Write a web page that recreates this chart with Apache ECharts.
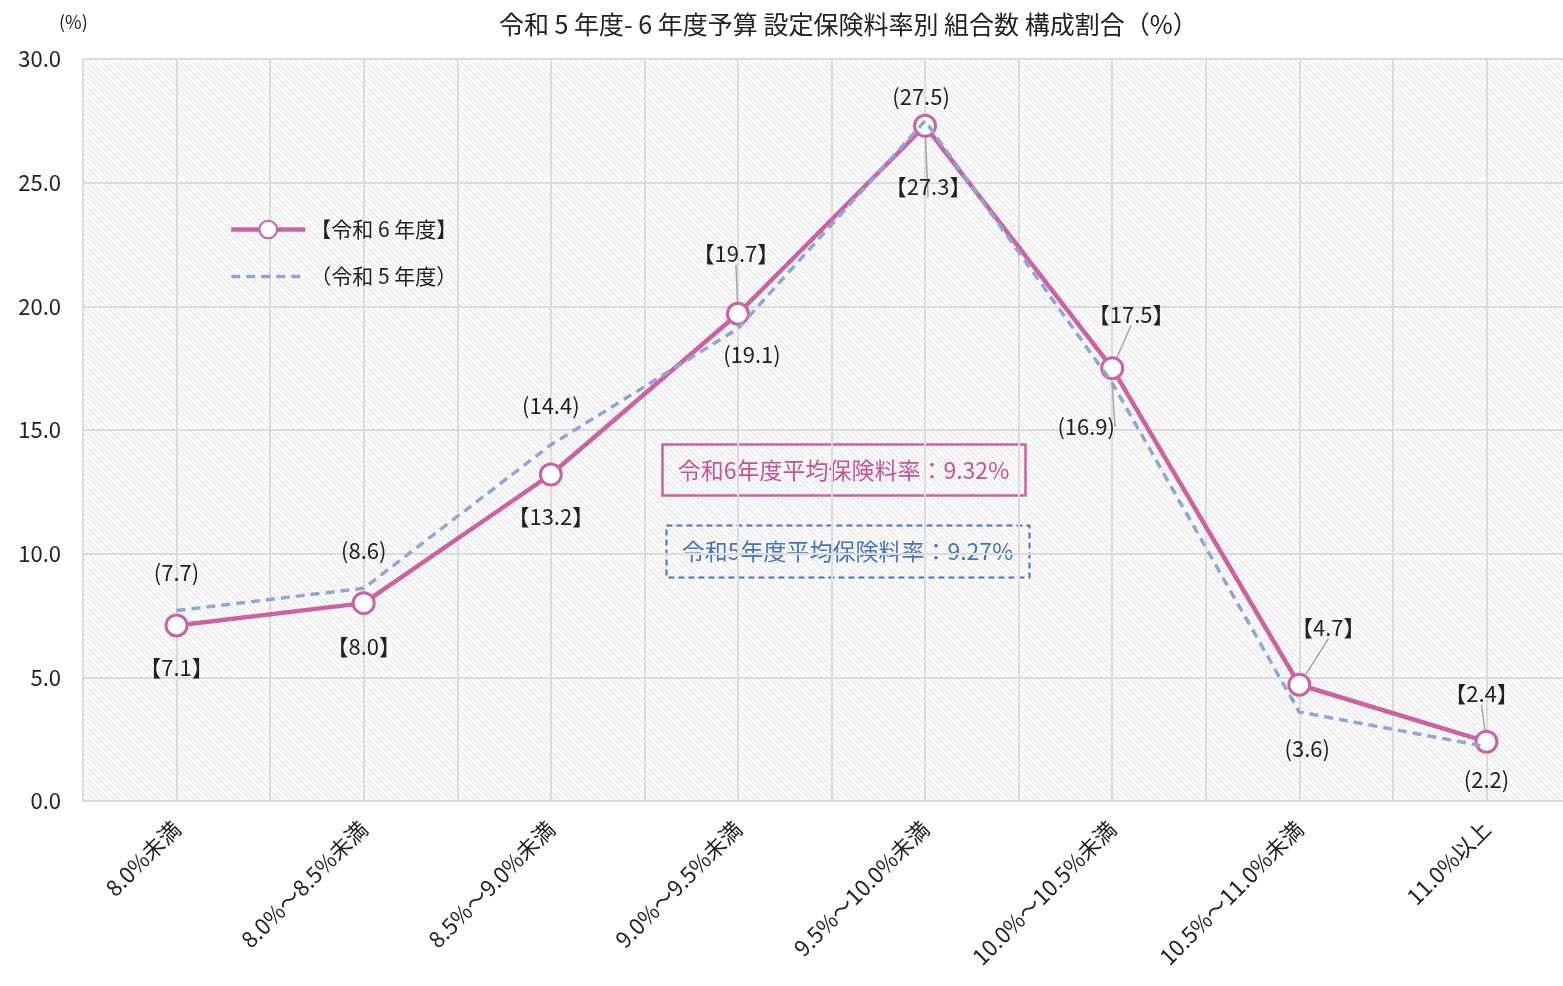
<!DOCTYPE html>
<html>
<head>
<meta charset="utf-8">
<script src="https://cdn.jsdelivr.net/npm/echarts@6/dist/echarts.min.js"></script>
<style>
  html, body { margin: 0; padding: 0; background: #fff; }
  #chart { width: 1563px; height: 986px; }
</style>
</head>
<body>
<div id="chart"></div>
<script>
// カテゴリ（設定保険料率）
const categories = [
  "8.0%未満", "8.0%～8.5%未満", "8.5%～9.0%未満", "9.0%～9.5%未満",
  "9.5%～10.0%未満", "10.0%～10.5%未満", "10.5%～11.0%未満", "11.0%以上"
];
// 令和6年度
const r6Values = [7.1, 8.0, 13.2, 19.7, 27.3, 17.5, 4.7, 2.4];
// 令和5年度
const r5Values = [7.7, 8.6, 14.4, 19.1, 27.5, 16.9, 3.6, 2.2];
const yTicks = [0, 5, 10, 15, 20, 25, 30];

// ラベル位置 [dx, dy, 引き出し線]
const r6LabelPos = [
  [0, 42, false], [0, 44, false], [0, 42, false], [-2, -60, true],
  [3, 61, true], [19, -54, true], [29, -57, true], [-5, -48, true]
];
const r5LabelPos = [
  [0, -38, false], [0, -38, false], [0, -39, false], [14, 26, false],
  [-4, -24, false], [-26, 44, true], [8, 37, false], [0, 33, false]
];

const PINK = "#CE619F";
const BLUE = "#8FA6D9";
const FONT = "'Noto Sans CJK JP', 'Noto Sans', sans-serif";

// 斜線の背景パターン
function makeHatch() {
  const c = document.createElement("canvas");
  c.width = 5;
  c.height = 5;
  const ctx = c.getContext("2d");
  ctx.fillStyle = "#ffffff";
  ctx.fillRect(0, 0, 5, 5);
  ctx.strokeStyle = "#d8d8d8";
  ctx.lineWidth = 0.9;
  ctx.beginPath();
  ctx.moveTo(-1, -1); ctx.lineTo(6, 6);
  ctx.moveTo(-1, 4); ctx.lineTo(2, 7);
  ctx.moveTo(4, -1); ctx.lineTo(7, 2);
  ctx.stroke();
  return c;
}

function buildData(values, pos, fmt) {
  return values.map((v, i) => ({
    value: v,
    label: {
      position: "inside",
      offset: [pos[i][0], pos[i][1]],
      formatter: fmt(v)
    },
    labelLine: { show: pos[i][2] }
  }));
}

const chart = echarts.init(document.getElementById("chart"));

const option = {
  backgroundColor: "#ffffff",
  animation: false,
  textStyle: { fontFamily: FONT },
  title: [
    {
      text: "令和 5 年度- 6 年度予算 設定保険料率別 組合数 構成割合（%）",
      left: 494,
      top: 7,
      textStyle: { fontSize: 25, fontWeight: "normal", color: "#222", fontFamily: FONT }
    },
    {
      text: "(%)",
      left: 54,
      top: 8,
      textStyle: { fontSize: 18, fontWeight: "normal", color: "#222", fontFamily: FONT }
    }
  ],
  legend: {
    orient: "vertical",
    left: 224,
    top: 214,
    itemWidth: 74,
    itemHeight: 22,
    itemGap: 26,
    textStyle: { fontSize: 21, color: "#222", fontFamily: FONT },
    data: [
      { name: "【令和 6 年度】", lineStyle: { width: 4.5 } },
      { name: "（令和 5 年度）", lineStyle: { width: 3.5 } }
    ]
  },
  grid: {
    left: 83,
    width: 1497,
    top: 59,
    bottom: 185,
    outerBoundsMode: "none",
    show: true,
    borderWidth: 0,
    backgroundColor: { image: makeHatch(), repeat: "repeat" }
  },
  xAxis: [
    {
      type: "category",
      data: categories,
      boundaryGap: true,
      axisLine: { lineStyle: { color: "#d9d9d9", width: 2 } },
      axisTick: { show: false },
      splitLine: { show: false },
      axisLabel: {
        rotate: 45,
        margin: 24,
        fontSize: 22,
        color: "#222",
        fontFamily: FONT,
        interval: 0
      }
    },
    {
      // 半区間ごとの縦線用
      type: "value",
      min: 0,
      max: categories.length * 2,
      interval: 1,
      position: "bottom",
      axisLine: { show: false },
      axisTick: { show: false },
      axisLabel: { show: false },
      splitLine: { show: true, lineStyle: { color: "#dcdcdc", width: 2 } }
    }
  ],
  yAxis: {
    type: "value",
    min: yTicks[0],
    max: yTicks[yTicks.length - 1],
    interval: 5,
    axisLine: { show: false },
    axisTick: { show: false },
    axisLabel: {
      margin: 22,
      fontSize: 22,
      color: "#222",
      fontFamily: FONT,
      formatter: (v) => v.toFixed(1)
    },
    splitLine: { lineStyle: { color: "#dcdcdc", width: 2 } }
  },
  series: [
    {
      name: "【令和 6 年度】",
      type: "line",
      xAxisIndex: 0,
      data: buildData(r6Values, r6LabelPos, (v) => "【" + v.toFixed(1) + "】"),
      symbol: "circle",
      symbolSize: 21,
      lineStyle: { color: PINK, width: 4.5 },
      itemStyle: { color: "#ffffff", borderColor: PINK, borderWidth: 3 },
      label: {
        show: true,
        fontSize: 22,
        color: "#222",
        fontFamily: FONT
      },
      labelLine: { show: false, lineStyle: { color: "#a6a6a6", width: 1.5 } },
      z: 3
    },
    {
      name: "（令和 5 年度）",
      type: "line",
      xAxisIndex: 0,
      data: buildData(r5Values, r5LabelPos, (v) => "(" + v.toFixed(1) + ")"),
      symbol: "circle",
      symbolSize: 2,
      lineStyle: { color: BLUE, width: 3.5, type: [9, 6] },
      itemStyle: { color: "rgba(0,0,0,0)" },
      label: {
        show: true,
        fontSize: 22,
        color: "#222",
        fontFamily: FONT
      },
      labelLine: { show: false, lineStyle: { color: "#a6a6a6", width: 1.5 } },
      z: 4
    }
  ],
  graphic: [
    {
      type: "group",
      left: 660,
      top: 442,
      children: [
        {
          type: "rect",
          shape: { x: 0, y: 0, width: 363, height: 51 },
          style: { fill: null, stroke: PINK, lineWidth: 2.5 }
        },
        {
          type: "text",
          x: 181,
          y: 26,
          style: {
            text: "令和6年度平均保険料率：9.32%",
            fill: "#CC4F98",
            font: "23px " + FONT,
            align: "center",
            verticalAlign: "middle"
          }
        }
      ]
    },
    {
      type: "group",
      left: 664,
      top: 523,
      children: [
        {
          type: "rect",
          shape: { x: 0, y: 0, width: 363, height: 52 },
          style: { fill: null, stroke: "#4472C4", lineWidth: 2, lineDash: [6, 4] }
        },
        {
          type: "text",
          x: 181,
          y: 26,
          style: {
            text: "令和5年度平均保険料率：9.27%",
            fill: "#4472C4",
            font: "23px " + FONT,
            align: "center",
            verticalAlign: "middle"
          }
        }
      ]
    }
  ]
};

chart.setOption(option);
</script>
</body>
</html>
